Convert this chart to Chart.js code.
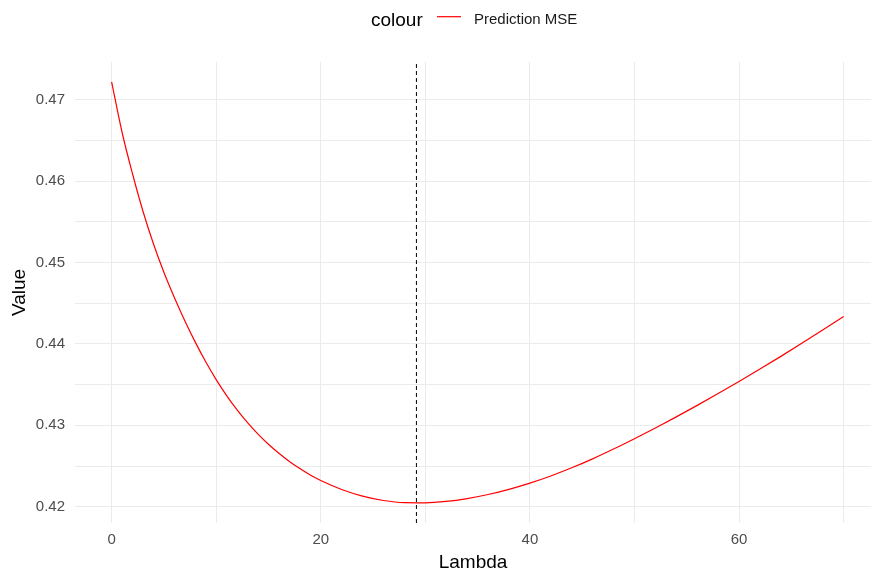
<!DOCTYPE html>
<html>
<head>
<meta charset="utf-8">
<script src="https://cdn.jsdelivr.net/npm/chart.js@4/dist/chart.umd.min.js"></script>
<style>
  html, body { margin: 0; padding: 0; background: #fff; }
</style>
</head>
<body>
<canvas id="myChart" width="871" height="576"></canvas>
<script>
// значения
const lambdas = [0, 1, 2, 3, 4, 5, 6, 7, 8, 9, 10, 11, 12, 13, 14, 15, 16, 17, 18, 19, 20,
  22, 24, 26, 28, 30, 32, 34, 36, 38, 40, 42, 44, 46, 48, 50, 52, 54, 56, 58, 60, 62, 64, 66, 68, 70];
const mse = [0.4722, 0.4660, 0.4609, 0.4563, 0.4523, 0.4488, 0.4457, 0.44285, 0.44022, 0.43781, 0.43562,
  0.43365, 0.43189, 0.43032, 0.42892, 0.42767, 0.42656, 0.42556, 0.42468, 0.42389, 0.42322,
  0.42212, 0.42130, 0.42076, 0.42050, 0.42048, 0.42065, 0.42100, 0.42150, 0.42214, 0.42290,
  0.42378, 0.42478, 0.42588, 0.42708, 0.42835, 0.42967, 0.43104, 0.43245, 0.43390, 0.43539,
  0.43691, 0.43847, 0.44007, 0.44171, 0.44338];
const bestLambda = 29.15;
const xTicks = [0, 10, 20, 30, 40, 50, 60, 70];
const yTicks = [0.42, 0.425, 0.43, 0.435, 0.44, 0.445, 0.45, 0.455, 0.46, 0.465, 0.47];
const xMin = -3.5, xMax = 72.62;
const yMin = 0.4180, yMax = 0.47463;

const seriesName = 'Prediction MSE';
const legendTitle = 'colour';
const fontFam = '"Liberation Sans", Arial, sans-serif';

// легенда как в ggplot: заголовок слева, ключ и подпись справа
const ggLegend = {
  id: 'ggLegend',
  afterDraw(chart) {
    const c = chart.ctx;
    c.save();
    c.textBaseline = 'alphabetic';
    c.textAlign = 'left';
    c.fillStyle = '#000';
    c.font = '19px ' + fontFam;
    c.fillText(legendTitle, 371, 25.5);
    c.strokeStyle = '#FF0000';
    c.lineWidth = 1.2;
    c.beginPath();
    c.moveTo(437, 16.7);
    c.lineTo(461, 16.7);
    c.stroke();
    c.font = '15px ' + fontFam;
    c.fillStyle = '#1a1a1a';
    c.fillText(seriesName, 474, 24);
    c.restore();
  }
};

const ctx = document.getElementById('myChart').getContext('2d');
const myChart = new Chart(ctx, {
  type: 'line',
  data: {
    datasets: [{
      label: seriesName,
      data: lambdas.map((l, i) => ({ x: l, y: mse[i] })),
      borderColor: '#FF0000',
      borderWidth: 1.2,
      pointRadius: 0,
      cubicInterpolationMode: 'monotone',
      fill: false
    }, {
      label: 'best',
      data: [{ x: bestLambda, y: yMin }, { x: bestLambda, y: yMax }],
      borderColor: '#000',
      borderWidth: 1,
      borderDash: [4, 3],
      pointRadius: 0,
      fill: false
    }]
  },
  options: {
    responsive: false,
    animation: false,
    layout: { padding: { top: 62, right: 0, bottom: 0, left: 0 } },
    plugins: {
      legend: { display: false },
      tooltip: { enabled: false }
    },
    scales: {
      x: {
        type: 'linear',
        min: xMin,
        max: xMax,
        afterBuildTicks: s => { s.ticks = xTicks.map(v => ({ value: v })); },
        afterFit: s => { s.height = 53; },
        border: { display: false },
        grid: {
          color: '#EBEBEB',
          lineWidth: 1,
          drawTicks: false
        },
        ticks: {
          autoSkip: false,
          maxRotation: 0,
          padding: 8,
          color: '#4D4D4D',
          font: { family: fontFam, size: 15 },
          callback: v => (v % 20 === 0 ? String(v) : '')
        },
        title: {
          display: true,
          text: 'Lambda',
          color: '#000',
          font: { family: fontFam, size: 19 },
          padding: { top: 0, bottom: 2 }
        }
      },
      y: {
        type: 'linear',
        min: yMin,
        max: yMax,
        afterBuildTicks: s => { s.ticks = yTicks.map(v => ({ value: v })); },
        afterFit: s => { s.width = 75; },
        border: { display: false },
        grid: {
          color: '#EBEBEB',
          lineWidth: 1,
          drawTicks: false
        },
        ticks: {
          autoSkip: false,
          padding: 10,
          color: '#4D4D4D',
          font: { family: fontFam, size: 15 },
          callback: v => (Math.round(v * 1000) % 10 === 0 ? v.toFixed(2) : '')
        },
        title: {
          display: true,
          text: 'Value',
          color: '#000',
          font: { family: fontFam, size: 19 },
          padding: { top: 8, bottom: 0 }
        }
      }
    }
  },
  plugins: [ggLegend]
});
</script>
</body>
</html>
